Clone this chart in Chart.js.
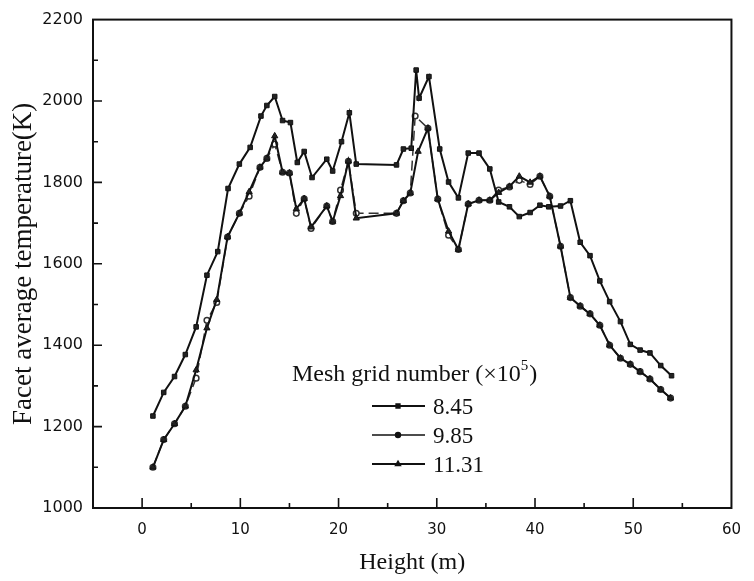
<!DOCTYPE html>
<html>
<head>
<meta charset="utf-8">
<script src="https://cdn.jsdelivr.net/npm/chart.js@4"></script>
<style>
  body { margin: 0; background: #fff; }
  #wrap { width: 754px; height: 581px; position: relative; }
</style>
</head>
<body>
<div id="wrap"><canvas id="myChart"></canvas></div>
<script>
// Height (m) and facet temperature (K) for each mesh size
var xA = [1.1,2.2,3.3,4.4,5.5,6.6,7.7,8.75,9.9,11.0,12.1,12.7,13.5,14.3,15.1,15.8,16.5,17.3,18.8,19.4,
          20.3,21.1,21.8,25.9,26.6,27.4,27.9,28.2,29.2,30.3,31.2,32.2,33.2,34.3,35.4,36.3,37.4,38.4,39.5,40.5,
          41.4,42.6,43.6,44.6,45.6,46.6,47.6,48.7,49.7,50.7,51.7,52.8,53.9];
var yA = [1226,1284,1323,1377,1445,1572,1630,1785,1845,1886,1963,1989,2011,1952,1947,1849,1876,1812,1857,1828,
          1900,1971,1845,1843,1882,1884,2076,2007,2060,1882,1801,1762,1872,1872,1833,1752,1740,1716,1726,1744,
          1740,1742,1755,1653,1620,1558,1507,1458,1402,1388,1381,1350,1325];

var xB = [1.1,2.2,3.3,4.4,5.5,6.6,7.6,8.7,9.9,10.9,12.0,12.7,13.5,14.3,15.0,15.7,16.5,17.2,18.8,19.4,20.2,21.0,21.8,
          25.9,26.6,27.3,27.8,29.1,30.1,31.2,32.2,33.2,34.3,35.4,36.3,37.4,38.4,39.5,40.5,41.5,42.6,43.6,44.6,
          45.6,46.6,47.6,48.7,49.7,50.7,51.7,52.8,53.8];
var yB = [1100,1168,1207,1250,1319,1461,1505,1666,1724,1766,1837,1859,1894,1825,1823,1724,1760,1687,1742,1704,1781,1852,1724,
          1724,1755,1774,1963,1933,1759,1670,1635,1747,1756,1756,1781,1789,1805,1795,1815,1766,1643,1517,1496,
          1477,1449,1400,1368,1353,1335,1317,1291,1270];

var xC = [1.1,2.2,3.3,4.4,5.5,6.6,7.6,8.7,9.9,10.9,12.0,12.7,13.5,14.3,15.0,15.7,16.5,17.2,18.8,19.4,20.2,21.0,21.8,
          25.9,26.6,27.3,28.1,29.1,30.1,31.2,32.2,33.2,34.3,35.4,36.3,37.4,38.4,39.5,40.5,41.5,42.6,43.6,44.6,
          45.6,46.6,47.6,48.7,49.7,50.7,51.7,52.8,53.8];
var yC = [1100,1168,1207,1250,1339,1442,1512,1666,1724,1777,1837,1859,1914,1825,1823,1735,1760,1690,1742,1704,1767,1852,1712,
          1724,1755,1774,1876,1933,1759,1680,1635,1747,1756,1756,1775,1790,1815,1800,1815,1766,1643,1517,1496,
          1477,1449,1400,1368,1353,1335,1317,1291,1270];

var seriesNames = ['8.45', '9.85', '11.31'];
var legendTitle = 'Mesh grid number (\u00d710';
var xTicks = [0, 10, 20, 30, 40, 50, 60];
var yTicks = [1000, 1200, 1400, 1600, 1800, 2000, 2200];

function pts(xs, ys) {
  return xs.map(function (x, i) { return {x: x, y: ys[i]}; });
}

// inward tick marks and the closed frame
var frame = {
  id: 'frame',
  afterDraw: function (chart) {
    var c = chart.ctx, a = chart.chartArea;
    var xs = chart.scales.x, ys = chart.scales.y;
    c.save();
    c.strokeStyle = '#111';
    c.lineWidth = 2;
    c.strokeRect(a.left, a.top, a.right - a.left, a.bottom - a.top);
    c.lineWidth = 1.6;
    c.beginPath();
    for (var v = 0; v <= 55; v += 5) {
      var px = xs.getPixelForValue(v);
      c.moveTo(px, a.bottom);
      c.lineTo(px, a.bottom - (v % 10 === 0 ? 10 : 5));
    }
    for (var t = 1100; t < 2200; t += 100) {
      var py = ys.getPixelForValue(t);
      c.moveTo(a.left, py);
      c.lineTo(a.left + (t % 200 === 0 ? 9 : 5), py);
    }
    c.stroke();
    c.restore();
  }
};

// legend drawn inside the plot, like the original figure
var innerLegend = {
  id: 'innerLegend',
  afterDraw: function (chart) {
    var c = chart.ctx;
    c.save();
    c.fillStyle = '#111';
    c.textBaseline = 'alphabetic';
    c.font = '24px "Liberation Serif", serif';
    c.fillText(legendTitle, 292, 381);
    var w = c.measureText(legendTitle).width;
    c.font = '15px "Liberation Serif", serif';
    c.fillText('5', 292 + w, 370);
    var w5 = c.measureText('5').width;
    c.font = '24px "Liberation Serif", serif';
    c.fillText(')', 292 + w + w5 + 1, 381);

    c.font = '23px "Liberation Serif", serif';
    chart.data.datasets.forEach(function (ds, i) {
      var y = 406 + i * 29;
      c.strokeStyle = '#111';
      c.lineWidth = i === 1 ? 1.4 : 1.8;
      c.beginPath();
      c.moveTo(372, y);
      c.lineTo(425, y);
      c.stroke();
      c.fillStyle = '#111';
      Chart.helpers.drawPoint(c, {
        pointStyle: ds.pointStyle, radius: 2.5, rotation: 0, borderWidth: 1
      }, 398, y);
      c.fillText(seriesNames[i], 433, y + 8);
    });
    c.restore();
  }
};

var ctx = document.getElementById('myChart').getContext('2d');
var myChart = new Chart(ctx, {
  type: 'line',
  data: {
    datasets: [{
      data: pts(xA, yA),
      label: seriesNames[0],
      borderColor: '#111',
      backgroundColor: '#222',
      borderWidth: 2,
      pointStyle: 'rect',
      pointRadius: 3.2,
      pointBorderWidth: 1,
      order: 0
    }, {
      data: pts(xB, yB),
      label: seriesNames[1],
      borderColor: '#333',
      backgroundColor: '#fff',
      borderWidth: 1.5,
      borderDash: [10, 5],
      pointStyle: 'circle',
      pointRadius: 2.8,
      pointBorderWidth: 1.5,
      order: 2
    }, {
      data: pts(xC, yC),
      label: seriesNames[2],
      borderColor: '#111',
      backgroundColor: '#222',
      borderWidth: 2,
      pointStyle: 'triangle',
      pointRadius: 3.6,
      pointBorderWidth: 1,
      order: 1
    }]
  },
  options: {
    responsive: true,
    maintainAspectRatio: false,
    animation: false,
    layout: { padding: { top: 13, right: 13, left: 0, bottom: 0 } },
    plugins: { legend: { display: false }, tooltip: { enabled: false } },
    elements: { line: { tension: 0 } },
    scales: {
      x: {
        type: 'linear',
        min: -5,
        max: 60,
        afterBuildTicks: function (s) { s.ticks = xTicks.map(function (v) { return {value: v}; }); },
        afterFit: function (s) { s.height = 73; },
        grid: { display: false, drawTicks: false },
        border: { display: false },
        ticks: {
          color: '#111', padding: 13, maxRotation: 0,
          font: { family: 'DejaVu Sans', size: 15 },
          callback: function (v) { return String(v); }
        },
        title: {
          display: true,
          text: 'Height (m)',
          color: '#111',
          padding: { top: 0, bottom: 4 },
          font: { family: 'Liberation Serif', size: 24 }
        }
      },
      y: {
        min: 1000,
        max: 2200,
        afterBuildTicks: function (s) { s.ticks = yTicks.map(function (v) { return {value: v}; }); },
        afterFit: function (s) { s.width = 93; },
        grid: { display: false, drawTicks: false },
        border: { display: false },
        ticks: {
          color: '#111', padding: 10,
          font: { family: 'DejaVu Sans', size: 16 },
          callback: function (v) { return String(v); }
        },
        title: {
          display: true,
          text: 'Facet average temperature(K)',
          color: '#111',
          padding: { top: 8, bottom: 0 },
          font: { family: 'Liberation Serif', size: 27 }
        }
      }
    }
  },
  plugins: [frame, innerLegend]
});
</script>
</body>
</html>
